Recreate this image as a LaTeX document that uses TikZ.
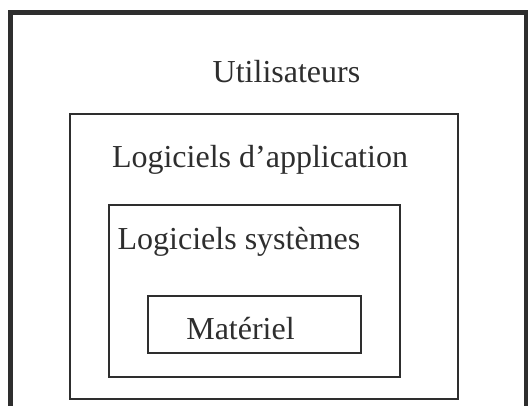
\documentclass[tikz,border=0pt]{standalone}
\usepackage{fontspec}
\setmainfont{Liberation Serif}
\definecolor{ink}{HTML}{2E2E2E}
\tikzset{
  layer/.style={draw=ink, rectangle, inner sep=0pt, outer sep=0pt, anchor=north west},
  lbl/.style={text=ink, inner sep=0pt, anchor=base, font=\fontsize{32pt}{36pt}\selectfont}
}
\begin{document}
\begin{tikzpicture}[x=1pt,y=1pt]
\useasboundingbox (0,0) rectangle (528,406);
\clip (0,0) rectangle (528,406);
\fill[white] (0,0) rectangle (528,406);
% outer box (users), bottom edge beyond the picture
\node[layer, line width=5pt, minimum width=516pt, minimum height=420pt] (users) at (10.5,393) {};
\node[layer, line width=2.5pt, minimum width=388pt, minimum height=285pt] (appl) at (70,292) {};
\node[layer, line width=2.5pt, minimum width=291pt, minimum height=172pt] (sys) at (109,201) {};
\node[layer, line width=2.5pt, minimum width=213pt, minimum height=57pt] (hw) at (148,110) {};
\node[lbl] (tusers) at (286.5,323) {Utilisateurs};
\node[lbl] (tappl) at (260,238) {Logiciels d’application};
\node[lbl] (tsys) at (239,156) {Logiciels systèmes};
\node[lbl] (thw) at (240.5,66) {Matériel};
\end{tikzpicture}
\end{document}
